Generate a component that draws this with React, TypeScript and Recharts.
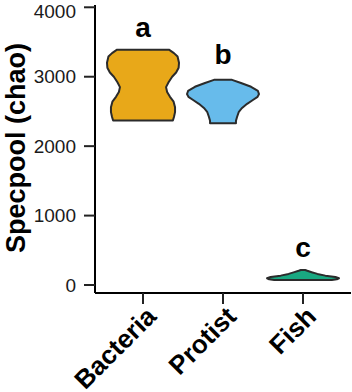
import { ComposedChart, Scatter, XAxis, YAxis, Curve } from 'recharts';

const CATEGORIES = ['Bacteria', 'Protist', 'Fish'];
const COLORS = ['#E69F00', '#56B4E9', '#009E73'];
const Y_TICKS = [0, 1000, 2000, 3000, 4000];

// violin outlines: value levels and relative density (1 = widest)
const BACTERIA_LEVELS = [2370, 2420, 2490, 2560, 2640, 2710, 2780, 2850, 2920, 3000, 3060, 3130, 3200, 3290, 3340, 3390];
const BACTERIA_DENSITY = [0.83, 0.86, 0.89, 0.89, 0.85, 0.75, 0.67, 0.64, 0.71, 0.81, 0.92, 0.99, 1, 0.96, 0.86, 0.72];

const PROTIST_LEVELS = [2330, 2365, 2420, 2495, 2550, 2610, 2665, 2710, 2750, 2795, 2855, 2910, 2955];
const PROTIST_DENSITY = [0.36, 0.36, 0.39, 0.44, 0.53, 0.67, 0.83, 0.96, 1, 0.97, 0.78, 0.5, 0.25];

const FISH_LEVELS = [72, 82, 97, 115, 135, 160, 185, 205, 216];
const FISH_DENSITY = [0.8, 0.94, 1, 0.9, 0.62, 0.4, 0.24, 0.12, 0.06];

const LETTERS = ['a', 'b', 'c'];
const LETTER_Y = [3578, 3177, 403];

const FONT = '"Liberation Sans", Arial, Helvetica, sans-serif';
const HALF_WIDTH = 0.45;

function outline(pos: number, levels: number[], density: number[]) {
  const right = levels.map((v, i) => ({ x: pos + HALF_WIDTH * density[i], y: v }));
  const left = levels.map((v, i) => ({ x: pos - HALF_WIDTH * density[i], y: v })).reverse();
  return [...right, ...left];
}

const violins = [
  outline(1, BACTERIA_LEVELS, BACTERIA_DENSITY),
  outline(2, PROTIST_LEVELS, PROTIST_DENSITY),
  outline(3, FISH_LEVELS, FISH_DENSITY),
];

const letterData = LETTERS.map((l, i) => ({ x: i + 1, y: LETTER_Y[i], label: l }));

const XTick = ({ x, y, payload }: any) => (
  <g transform={`translate(${x},${y})`}>
    <text
      transform="rotate(-45)"
      textAnchor="end"
      x={2}
      dy={19}
      fontFamily={FONT}
      fontWeight="bold"
      fontSize={26}
      fill="#000"
    >
      {CATEGORIES[payload.value - 1]}
    </text>
  </g>
);

const YLabel = ({ viewBox }: any) => {
  const cx = viewBox.x + 24.5;
  const cy = viewBox.y + viewBox.height / 2 - 1;
  return (
    <text
      x={cx}
      y={cy}
      transform={`rotate(-90, ${cx}, ${cy})`}
      textAnchor="middle"
      fontFamily={FONT}
      fontWeight="bold"
      fontSize={27}
      fill="#000"
    >
      Specpool (chao)
    </text>
  );
};

export default function App() {
  return (
    <div>
      <style>{'body{margin:0}'}</style>
      <ComposedChart width={352} height={392} margin={{ top: 5, right: 1, bottom: 0, left: 0 }}>
        <XAxis
          type="number"
          dataKey="x"
          domain={[0.4, 3.6]}
          ticks={[1, 2, 3]}
          allowDataOverflow
          height={99}
          tickSize={11}
          tick={<XTick />}
          axisLine={{ stroke: '#000', strokeWidth: 2 }}
          tickLine={{ stroke: '#222', strokeWidth: 2 }}
        />
        <YAxis
          type="number"
          dataKey="y"
          domain={[-115, 4033]}
          ticks={Y_TICKS}
          allowDataOverflow
          width={95}
          tickSize={11}
          tickMargin={8}
          tick={{ fontFamily: FONT, fontSize: 19, fill: '#1a1a1a' }}
          axisLine={{ stroke: '#000', strokeWidth: 2 }}
          tickLine={{ stroke: '#222', strokeWidth: 2 }}
          label={<YLabel />}
        />
        {violins.map((pts, i) => (
          <Scatter
            key={CATEGORIES[i]}
            data={pts}
            isAnimationActive={false}
            shape={() => <g />}
            line={(p: any) => (
              <Curve
                points={p.points}
                type="linearClosed"
                fill={COLORS[i]}
                fillOpacity={0.9}
                stroke="#2b2b2b"
                strokeWidth={2}
                strokeLinejoin="round"
              />
            )}
          />
        ))}
        <Scatter
          data={letterData}
          isAnimationActive={false}
          shape={(p: any) => (
            <text
              x={p.cx}
              y={p.cy}
              textAnchor="middle"
              fontFamily={FONT}
              fontWeight="bold"
              fontSize={28}
              fill="#000"
            >
              {p.payload.label}
            </text>
          )}
        />
      </ComposedChart>
    </div>
  );
}
